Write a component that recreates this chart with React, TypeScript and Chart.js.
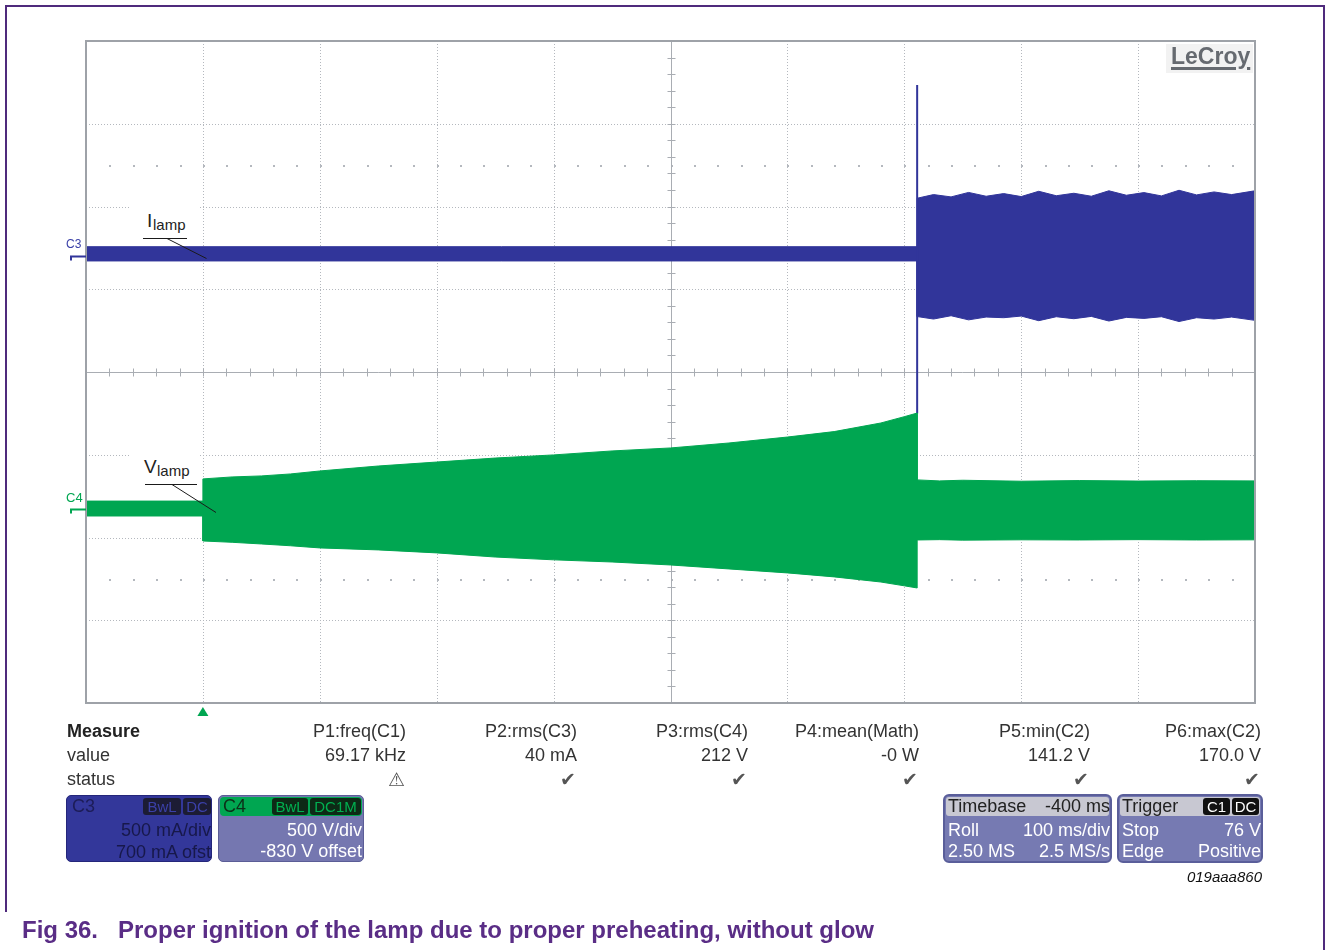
import React, { useEffect, useRef } from "react";
import { Chart, registerables } from "chart.js";

Chart.register(...registerables);

// ---- Axis setup (100 ms/div, trigger at t = 0) ----
const X_MIN_MS = -100;
const X_MAX_MS = 900;
const X_DIV_MS = 100;
const Y_DIVS = 4;

// Channel scaling
const C3_MA_PER_DIV = 500;
const C3_OFFSET_MA = 700;
const C4_V_PER_DIV = 500;
const C4_OFFSET_V = -830;

// ---- C4: lamp voltage envelope (V) ----
const vTimeMs = [-100, 0, 0, 25, 50, 75, 100, 150, 200, 250, 300, 350, 400, 450, 500, 540, 580, 600, 611, 611, 630, 650, 700, 750, 800, 850, 900];
const vUpper = [50, 50, 184, 196, 202, 214, 232, 262, 286, 310, 329, 353, 371, 401, 437, 470, 522, 560, 582, 178, 172, 176, 170, 174, 171, 173, 172];
const vLower = [-40, -40, -191, -199, -209, -220, -233, -245, -263, -288, -305, -318, -336, -360, -384, -408, -439, -462, -475, -185, -183, -186, -184, -185, -183, -185, -184];

// ---- C3: lamp current envelope (mA) ----
const iTimeMs = [-100, 611, 611, 625, 640, 655, 670, 685, 700, 715, 730, 745, 760, 775, 790, 805, 820, 835, 850, 865, 880, 900];
const iUpper = [57, 57, 350, 372, 358, 385, 362, 378, 360, 392, 365, 380, 362, 395, 368, 384, 364, 398, 370, 388, 372, 395];
const iLower = [-29, -29, -365, -380, -360, -385, -368, -372, -362, -390, -366, -378, -364, -392, -370, -376, -366, -395, -372, -380, -368, -388];

// ignition current spike (mA)
const spikeTimeMs = [611, 611];
const spikeMa = [1034, -950];

// ---- Measurement table ----
const measureNames = ["P1:freq(C1)", "P2:rms(C3)", "P3:rms(C4)", "P4:mean(Math)", "P5:min(C2)", "P6:max(C2)"];
const measureValues = ["69.17 kHz", "40 mA", "212 V", "-0 W", "141.2 V", "170.0 V"];
const measureStatus = ["\u26A0", "\u2714", "\u2714", "\u2714", "\u2714", "\u2714"];

const BLUE = "#31359a";
const GREEN = "#00a651";
const FONT = "'Liberation Sans', Arial, sans-serif";

const c3Div = (ma: number) => (ma + C3_OFFSET_MA) / C3_MA_PER_DIV;
const c4Div = (v: number) => (v + C4_OFFSET_V) / C4_V_PER_DIV;

const scopePlugin = {
  id: "scope",
  beforeDatasetsDraw(chart: any) {
    const { ctx, chartArea, scales } = chart;
    const { left, right, top, bottom } = chartArea;
    const x = scales.x;
    const y = scales.y;
    ctx.save();
    ctx.lineWidth = 1;
    ctx.strokeStyle = "#b4b8be";
    ctx.setLineDash([1, 2]);
    const nx = (X_MAX_MS - X_MIN_MS) / X_DIV_MS;
    for (let i = 1; i < nx; i++) {
      if (i === nx / 2) continue;
      const px = Math.round(x.getPixelForValue(X_MIN_MS + i * X_DIV_MS)) + 0.5;
      ctx.beginPath();
      ctx.moveTo(px, top);
      ctx.lineTo(px, bottom);
      ctx.stroke();
    }
    for (let j = -Y_DIVS + 1; j < Y_DIVS; j++) {
      if (j === 0) continue;
      const py = Math.round(y.getPixelForValue(j)) + 0.5;
      ctx.beginPath();
      ctx.moveTo(left, py);
      ctx.lineTo(right, py);
      ctx.stroke();
    }
    ctx.setLineDash([]);
    // sparse dot rows
    ctx.fillStyle = "#b4b8be";
    for (let k = 1; k < nx * 5; k++) {
      const px = Math.round(x.getPixelForValue(X_MIN_MS + (k * X_DIV_MS) / 5));
      for (const v of [2.5, -2.5]) {
        const py = Math.round(y.getPixelForValue(v));
        ctx.fillRect(px, py, 2, 2);
      }
    }
    // center axes with ticks
    ctx.strokeStyle = "#a9adb3";
    const cx = Math.round(x.getPixelForValue((X_MIN_MS + X_MAX_MS) / 2)) + 0.5;
    const cy = Math.round(y.getPixelForValue(0)) + 0.5;
    ctx.beginPath();
    ctx.moveTo(cx, top);
    ctx.lineTo(cx, bottom);
    ctx.moveTo(left, cy);
    ctx.lineTo(right, cy);
    for (let k = 1; k < nx * 5; k++) {
      const px = Math.round(x.getPixelForValue(X_MIN_MS + (k * X_DIV_MS) / 5)) + 0.5;
      ctx.moveTo(px, cy - 4);
      ctx.lineTo(px, cy + 4);
    }
    for (let k = -Y_DIVS * 5 + 1; k < Y_DIVS * 5; k++) {
      const py = Math.round(y.getPixelForValue(k / 5)) + 0.5;
      ctx.moveTo(cx - 4, py);
      ctx.lineTo(cx + 4, py);
    }
    ctx.stroke();
    ctx.restore();
  },
  afterDatasetsDraw(chart: any) {
    const { ctx, chartArea, scales } = chart;
    const { left, right, top, bottom } = chartArea;
    const x = scales.x;
    const y = scales.y;
    ctx.save();
    // border
    ctx.strokeStyle = "#9ea2a8";
    ctx.lineWidth = 2;
    ctx.strokeRect(left, top, right - left, bottom - top);
    // channel ground markers
    const y3 = Math.round(y.getPixelForValue(c3Div(0))) + 0.5;
    const y4 = Math.round(y.getPixelForValue(c4Div(0))) + 0.5;
    ctx.lineWidth = 2;
    ctx.strokeStyle = BLUE;
    ctx.beginPath();
    ctx.moveTo(left - 16, y3);
    ctx.lineTo(left, y3);
    ctx.moveTo(left - 15, y3);
    ctx.lineTo(left - 15, y3 + 4);
    ctx.stroke();
    ctx.strokeStyle = GREEN;
    ctx.beginPath();
    ctx.moveTo(left - 16, y4);
    ctx.lineTo(left, y4);
    ctx.moveTo(left - 15, y4);
    ctx.lineTo(left - 15, y4 + 4);
    ctx.stroke();
    // trigger marker
    const tx = x.getPixelForValue(0);
    ctx.fillStyle = GREEN;
    ctx.beginPath();
    ctx.moveTo(tx, bottom + 4);
    ctx.lineTo(tx + 5.5, bottom + 13);
    ctx.lineTo(tx - 5.5, bottom + 13);
    ctx.closePath();
    ctx.fill();
    // label pointer lines
    ctx.strokeStyle = "#1a1a1a";
    ctx.lineWidth = 1;
    ctx.beginPath();
    ctx.moveTo(143, 238.5);
    ctx.lineTo(187, 238.5);
    ctx.moveTo(167, 238.5);
    ctx.lineTo(206.5, 258.5);
    ctx.moveTo(145, 484.5);
    ctx.lineTo(197, 484.5);
    ctx.moveTo(172, 484.5);
    ctx.lineTo(216, 512.5);
    ctx.stroke();
    ctx.restore();
  },
};

function T(props: {
  x: number;
  y: number;
  text: string;
  size?: number;
  color?: string;
  align?: "left" | "right";
  bold?: boolean;
  italic?: boolean;
  family?: string;
  style?: React.CSSProperties;
}) {
  const size = props.size ?? 18;
  const h = Math.round(size * 1.3);
  return (
    <div
      style={{
        position: "absolute",
        left: props.x,
        top: props.y - h / 2,
        height: h,
        lineHeight: h + "px",
        fontSize: size,
        fontFamily: props.family ?? FONT,
        fontWeight: props.bold ? "bold" : "normal",
        fontStyle: props.italic ? "italic" : "normal",
        color: props.color ?? "#333",
        whiteSpace: "nowrap",
        transform: props.align === "right" ? "translateX(-100%)" : undefined,
        ...props.style,
      }}
    >
      {props.text}
    </div>
  );
}

function R(props: { x: number; y: number; w: number; h: number; bg: string; radius?: number; border?: string }) {
  return (
    <div
      style={{
        position: "absolute",
        left: props.x,
        top: props.y,
        width: props.w,
        height: props.h,
        background: props.bg,
        borderRadius: props.radius ?? 0,
        border: props.border,
        boxSizing: "border-box",
      }}
    />
  );
}

function Badge(props: { x: number; w: number; text: string; bg: string; color: string }) {
  return (
    <div
      style={{
        position: "absolute",
        left: props.x,
        top: 798,
        width: props.w,
        height: 17,
        background: props.bg,
        borderRadius: 3,
        color: props.color,
        fontFamily: FONT,
        fontSize: 15,
        lineHeight: "17px",
        textAlign: "center",
      }}
    >
      {props.text}
    </div>
  );
}

export default function App() {
  const canvasRef = useRef<HTMLCanvasElement | null>(null);

  useEffect(() => {
    const canvas = canvasRef.current;
    if (!canvas) return;
    const chart = new Chart(canvas, {
      type: "line",
      data: {
        datasets: [
          {
            label: "C4 upper",
            data: vTimeMs.map((t, i) => ({ x: t, y: c4Div(vUpper[i]) })),
            borderColor: GREEN,
            backgroundColor: GREEN,
            borderWidth: 1,
            pointRadius: 0,
            fill: "+1",
            tension: 0,
            order: 0,
          },
          {
            label: "C4 lower",
            data: vTimeMs.map((t, i) => ({ x: t, y: c4Div(vLower[i]) })),
            borderColor: GREEN,
            backgroundColor: GREEN,
            borderWidth: 1,
            pointRadius: 0,
            fill: false,
            tension: 0,
            order: 0,
          },
          {
            label: "C3 spike",
            data: spikeTimeMs.map((t, i) => ({ x: t, y: c3Div(spikeMa[i]) })),
            borderColor: BLUE,
            backgroundColor: BLUE,
            borderWidth: 2,
            pointRadius: 0,
            fill: false,
            order: 1,
          },
          {
            label: "C3 upper",
            data: iTimeMs.map((t, i) => ({ x: t, y: c3Div(iUpper[i]) })),
            borderColor: BLUE,
            backgroundColor: BLUE,
            borderWidth: 1,
            pointRadius: 0,
            fill: "+1",
            tension: 0,
            order: 2,
          },
          {
            label: "C3 lower",
            data: iTimeMs.map((t, i) => ({ x: t, y: c3Div(iLower[i]) })),
            borderColor: BLUE,
            backgroundColor: BLUE,
            borderWidth: 1,
            pointRadius: 0,
            fill: false,
            tension: 0,
            order: 2,
          },
        ],
      },
      options: {
        responsive: false,
        devicePixelRatio: 1,
        animation: false,
        events: [],
        layout: { padding: { left: 86, top: 41, right: 72, bottom: 247 } },
        plugins: { legend: { display: false }, tooltip: { enabled: false } },
        scales: {
          x: { type: "linear", min: X_MIN_MS, max: X_MAX_MS, display: false },
          y: { type: "linear", min: -Y_DIVS, max: Y_DIVS, display: false },
        },
      },
      plugins: [scopePlugin],
    });
    return () => chart.destroy();
  }, []);

  const colRight = (i: number) => 406 + i * 171;

  return (
    <div style={{ position: "absolute", left: 0, top: 0, width: 1327, height: 950, background: "#fff", overflow: "hidden" }}>
      <canvas ref={canvasRef} width={1327} height={950} style={{ position: "absolute", left: 0, top: 0 }} />

      {/* outer frame */}
      <R x={5} y={5} w={1320} h={2} bg="#4f2a7c" />
      <R x={5} y={5} w={2} h={907} bg="#4f2a7c" />
      <R x={1323} y={5} w={2} h={945} bg="#4f2a7c" />

      {/* LeCroy logo */}
      <R x={1166} y={44} w={87} h={29} bg="#f2f2f2" />
      <T x={1171} y={56} text="LeCroy" size={23} bold color="#666a70" style={{ textDecoration: "underline", textDecorationThickness: "3px", textUnderlineOffset: "3px" }} />

      {/* channel labels */}
      <T x={66} y={244} text="C3" size={12} color="#3a40a8" />
      <T x={66} y={497} text="C4" size={13} color={GREEN} />

      {/* Ilamp / Vlamp labels */}
      <R x={130} y={200} w={70} h={36} bg="#fff" />
      <T x={147} y={220} text="I" size={19} color="#222" />
      <T x={153} y={225} text="lamp" size={15} color="#222" />
      <R x={130} y={448} w={70} h={34} bg="#fff" />
      <T x={144} y={466} text="V" size={19} color="#222" />
      <T x={157} y={471} text="lamp" size={15} color="#222" />

      {/* measurement table */}
      <T x={67} y={731} text="Measure" size={18} bold color="#222" />
      <T x={67} y={755} text="value" size={18} color="#333" />
      <T x={67} y={779} text="status" size={18} color="#333" />
      {measureNames.map((n, i) => (
        <React.Fragment key={n}>
          <T x={colRight(i)} y={731} text={n} size={18} align="right" color="#333" />
          <T x={colRight(i)} y={755} text={measureValues[i]} size={18} align="right" color="#333" />
          <T x={colRight(i) - 1} y={779} text={measureStatus[i]} size={19} align="right" color="#555" family="'DejaVu Sans', sans-serif" />
        </React.Fragment>
      ))}

      {/* C3 box */}
      <R x={66} y={795} w={146} h={67} bg="#33379a" radius={5} border="1px solid #24267a" />
      <T x={72} y={806} text="C3" size={18} color="#1d1d58" />
      <Badge x={143} w={38} text="BwL" bg="#1c1c34" color="#3b40a8" />
      <Badge x={183} w={28} text="DC" bg="#1c1c34" color="#3b40a8" />
      <T x={211} y={830} text="500 mA/div" size={18} align="right" color="#17184a" />
      <T x={211} y={852} text="700 mA ofst" size={18} align="right" color="#17184a" />

      {/* C4 box */}
      <R x={218} y={795} w={146} h={67} bg="#7577b0" radius={5} border="1px solid #5b5d96" />
      <R x={220} y={797} w={142} h={19} bg={GREEN} radius={4} />
      <T x={223} y={806} text="C4" size={18} color="#0c3018" />
      <Badge x={272} w={36} text="BwL" bg="#0d2a16" color="#00b050" />
      <Badge x={310} w={51} text="DC1M" bg="#0d2a16" color="#00b050" />
      <T x={362} y={830} text="500 V/div" size={18} align="right" color="#fff" />
      <T x={362} y={851} text="-830 V offset" size={18} align="right" color="#fff" />

      {/* Timebase box */}
      <R x={943} y={794} w={169} h={69} bg="#767ab2" radius={6} border="2px solid #5a5e9a" />
      <R x={946} y={797} w={163} h={19} bg="#c8c8d2" radius={3} />
      <T x={948} y={806} text="Timebase" size={18} color="#222" />
      <T x={1110} y={806} text="-400 ms" size={18} align="right" color="#222" />
      <T x={948} y={830} text="Roll" size={18} color="#fff" />
      <T x={1110} y={830} text="100 ms/div" size={18} align="right" color="#fff" />
      <T x={948} y={851} text="2.50 MS" size={18} color="#fff" />
      <T x={1110} y={851} text="2.5 MS/s" size={18} align="right" color="#fff" />

      {/* Trigger box */}
      <R x={1117} y={794} w={146} h={69} bg="#767ab2" radius={6} border="2px solid #5a5e9a" />
      <R x={1120} y={797} w={140} h={19} bg="#c8c8d2" radius={3} />
      <T x={1122} y={806} text="Trigger" size={18} color="#222" />
      <Badge x={1203} w={27} text="C1" bg="#111" color="#fff" />
      <Badge x={1232} w={27} text="DC" bg="#111" color="#fff" />
      <T x={1122} y={830} text="Stop" size={18} color="#fff" />
      <T x={1261} y={830} text="76 V" size={18} align="right" color="#fff" />
      <T x={1122} y={851} text="Edge" size={18} color="#fff" />
      <T x={1261} y={851} text="Positive" size={18} align="right" color="#fff" />

      <T x={1262} y={877} text="019aaa860" size={15} italic align="right" color="#111" />

      {/* caption */}
      <T x={22} y={929} text={"Fig 36.\u00A0\u00A0\u00A0Proper ignition of the lamp due to proper preheating, without glow"} size={24} bold color="#5a2d86" />
    </div>
  );
}
